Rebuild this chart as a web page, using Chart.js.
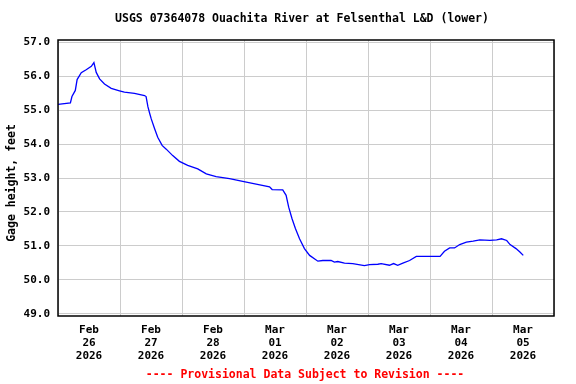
<!DOCTYPE html>
<html lang="en">
<head>
<meta charset="utf-8">
<title>USGS 07364078 Ouachita River at Felsenthal L&amp;D (lower)</title>
<script src="https://cdn.jsdelivr.net/npm/chart.js@4.4.1/dist/chart.umd.min.js"></script>
<style>
    html, body { margin: 0; padding: 0; background: #ffffff; }
    #chartBox { width: 576px; height: 384px; }
</style>
</head>
<body>
<div id="chartBox"><canvas id="gageChart"></canvas></div>
<script>
/* -------------------------------------------------
    DATA:
    Hours since Feb 26 2026 00:00 and gage height (feet),
    read off the reference plot.
------------------------------------------------- */
const hours = [
    0, 4.8, 5.4, 6.7, 7.4, 9.0, 10.9, 12.9, 13.9, 14.8,
    16.1, 18.0, 20.6, 23.8, 25.7, 29.6, 33.5, 34.1, 34.8, 35.5,
    36.1, 37.4, 38.6, 40.3, 41.9, 44.4, 47.0, 50.2, 54.1, 57.4,
    61.2, 66.4, 71.5, 76.7, 81.9, 82.9, 87.0, 88.3, 89.3, 90.6,
    91.9, 93.5, 95.4, 97.4, 100.6, 102.5, 105.7, 107.0, 108.3, 110.9,
    114.1, 118.6, 120.6, 123.8, 125.1, 128.3, 129.9, 131.5, 133.5, 136.1,
    138.7, 147.9, 149.6, 151.6, 153.5, 155.5, 158.1, 160.7, 163.3, 167.2,
    169.8, 171.7, 173.7, 175.0, 177.3, 178.8, 180.1
];
const gageHeight = [
    55.17, 55.21, 55.40, 55.58, 55.90, 56.10, 56.19, 56.29, 56.40, 56.11,
    55.92, 55.77, 55.64, 55.57, 55.53, 55.49, 55.43, 55.40, 55.10, 54.90,
    54.74, 54.45, 54.20, 53.96, 53.85, 53.66, 53.49, 53.37, 53.27, 53.12,
    53.04, 52.98, 52.90, 52.82, 52.74, 52.66, 52.65, 52.49, 52.14, 51.80,
    51.51, 51.21, 50.92, 50.72, 50.55, 50.57, 50.57, 50.52, 50.54, 50.49,
    50.48, 50.42, 50.45, 50.46, 50.48, 50.43, 50.48, 50.43, 50.49, 50.57,
    50.69, 50.69, 50.84, 50.94, 50.94, 51.04, 51.11, 51.14, 51.18, 51.16,
    51.18, 51.21, 51.16, 51.04, 50.92, 50.82, 50.72
];

// Tick labels (one per day, drawn at noon) and y tick values
const dayLabels = [
    ['Feb', '26', '2026'], ['Feb', '27', '2026'], ['Feb', '28', '2026'], ['Mar', '01', '2026'],
    ['Mar', '02', '2026'], ['Mar', '03', '2026'], ['Mar', '04', '2026'], ['Mar', '05', '2026']
];
const yTicks = [49, 50, 51, 52, 53, 54, 55, 56, 57];

const chartTitle = 'USGS 07364078 Ouachita River at Felsenthal L&D (lower)';
const yAxisTitle = 'Gage height, feet';
const footerText = '---- Provisional Data Subject to Revision ----';

const FONT = '"DejaVu Sans Mono", "Liberation Mono", monospace';

/* -------------------------------------------------
    PLUGIN: frame, title, axis title and footer text
------------------------------------------------- */
const usgsDecor = {
    id: 'usgsDecor',
    afterDraw(chart) {
        const { ctx, chartArea } = chart;
        ctx.save();

        // black frame round the plot
        ctx.strokeStyle = '#000000';
        ctx.lineWidth = 1.5;
        ctx.strokeRect(chartArea.left, chartArea.top,
            chartArea.right - chartArea.left, chartArea.bottom - chartArea.top);

        ctx.fillStyle = '#000000';
        ctx.font = 'bold 11.5px ' + FONT;
        ctx.textAlign = 'center';
        ctx.textBaseline = 'middle';
        ctx.fillText(chartTitle, 302, 19);

        // rotated y axis title
        ctx.save();
        ctx.translate(12, 183);
        ctx.rotate(-Math.PI / 2);
        ctx.fillText(yAxisTitle, 0, 0);
        ctx.restore();

        ctx.fillStyle = '#ff0000';
        ctx.fillText(footerText, 305, 375);
        ctx.restore();
    }
};

document.addEventListener('DOMContentLoaded', () => {
    const ctx = document.getElementById('gageChart').getContext('2d');
    new Chart(ctx, {
        type: 'line',
        data: {
            datasets: [{
                label: 'Gage height',
                data: hours.map((h, i) => ({ x: h, y: gageHeight[i] })),
                borderColor: '#0000ff',
                borderWidth: 1.3,
                pointRadius: 0,
                tension: 0,
                fill: false
            }]
        },
        options: {
            responsive: true,
            maintainAspectRatio: false,
            animation: false,
            devicePixelRatio: 1,
            layout: { padding: { top: 40, right: 22, left: 0, bottom: 0 } },
            plugins: {
                legend: { display: false },
                tooltip: { enabled: false },
                title: { display: false }
            },
            scales: {
                x: {
                    type: 'linear',
                    min: 0,
                    max: 192,
                    afterBuildTicks: axis => {
                        const t = [];
                        for (let v = 0; v <= 192; v += 12) t.push({ value: v });
                        axis.ticks = t;
                    },
                    afterFit: scale => { scale.height = 68; },
                    border: { display: false },
                    grid: {
                        drawTicks: false,
                        lineWidth: 1,
                        color: c => (c.tick && c.tick.value % 24 === 0) ? '#cccccc' : 'rgba(0,0,0,0)'
                    },
                    ticks: {
                        autoSkip: false,
                        maxRotation: 0,
                        padding: 7.5,
                        color: '#000000',
                        font: { family: FONT, size: 11, weight: 'bold', lineHeight: 13 / 11 },
                        callback: value => (value % 24 === 12) ? dayLabels[(value - 12) / 24] : ''
                    }
                },
                y: {
                    min: 48.935,
                    max: 57.065,
                    afterBuildTicks: axis => { axis.ticks = yTicks.map(v => ({ value: v })); },
                    afterFit: scale => { scale.width = 58; },
                    border: { display: false },
                    grid: { drawTicks: false, color: '#cccccc', lineWidth: 1 },
                    ticks: {
                        padding: 8,
                        color: '#000000',
                        font: { family: FONT, size: 11, weight: 'bold' },
                        callback: value => value.toFixed(1)
                    }
                }
            }
        },
        plugins: [usgsDecor]
    });
});
</script>
</body>
</html>
